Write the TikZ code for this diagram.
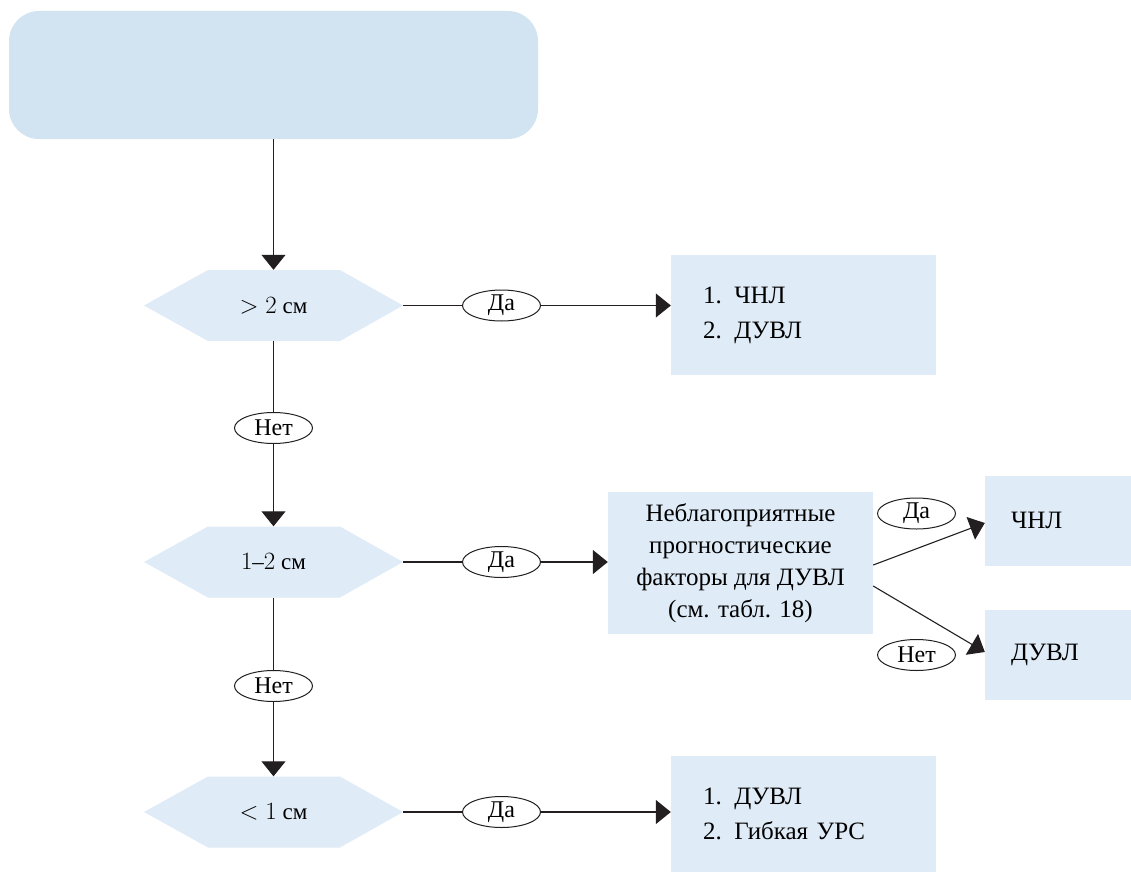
\documentclass[tikz,border=0pt]{standalone}
\usepackage{fontspec}
\setmainfont{Liberation Serif}
\usetikzlibrary{arrows.meta,shapes.geometric}
\definecolor{topfill}{RGB}{210,228,241}
\definecolor{boxfill}{RGB}{223,235,246}
\definecolor{ink}{RGB}{35,31,32}
\begin{document}
\begin{tikzpicture}[x=1pt,y=-1pt,
  line/.style={draw=ink, line width=1.1pt},
  arr/.style={line, -{Triangle[length=15pt,width=24pt]}},
  topbox/.style={fill=topfill, rounded corners=30pt, minimum width=529pt, minimum height=128pt, inner sep=0pt},
  hexa/.style={minimum width=259pt, minimum height=71pt, inner sep=0pt, font=\fontsize{23}{27}\selectfont,
    path picture={\fill[boxfill] (path picture bounding box.west)
      -- ([xshift=64pt]path picture bounding box.north west)
      -- ([xshift=-63pt]path picture bounding box.north east)
      -- (path picture bounding box.east)
      -- ([xshift=-63pt]path picture bounding box.south east)
      -- ([xshift=64pt]path picture bounding box.south west) -- cycle;}},
  lbl/.style={draw=ink, line width=1pt, ellipse, fill=white, minimum width=78pt, minimum height=31pt, inner sep=0pt, font=\fontsize{24}{28}\selectfont},
  listbox/.style={fill=boxfill, minimum width=265pt, inner xsep=32pt, text width=201pt, align=left, font=\fontsize{25}{35}\selectfont},
  endbox/.style={fill=boxfill, minimum width=146pt, minimum height=90pt, inner xsep=26pt, text width=94pt, align=left, font=\fontsize{25}{30}\selectfont},
  midbox/.style={fill=boxfill, minimum width=265pt, minimum height=142pt, inner sep=0pt, align=center, font=\fontsize{25}{32}\selectfont}
]
\useasboundingbox (0,0) rectangle (1131,872);

\node[topbox] (top) at (273.5,75) {};

\node[hexa] (h1) at (273.5,305.5) {$>2$ см};
\node[hexa] (h2) at (273.5,562) {$1$–$2$ см};
\node[hexa] (h3) at (273.5,812) {$<1$ см};

\node[lbl] (n1) at (273.5,428) {Нет};
\node[lbl] (n2) at (273.5,686) {Нет};

\node[lbl] (d1) at (501.5,305.5) {Да};
\node[lbl] (d2) at (501.5,562) {Да};
\node[lbl] (d3) at (501.5,812) {Да};

\node[listbox, minimum height=120pt] (b1) at (803.5,315) {1. ЧНЛ\\2. ДУВЛ};
\node[midbox] (b2) at (740.5,563) {Неблагоприятные\\прогностические\\факторы для ДУВЛ\\(см. табл. 18)};
\node[listbox, minimum height=116pt] (b3) at (803.5,814) {\rule{0pt}{0pt}1. ДУВЛ\\2. Гибкая УРС};

\node[endbox] (c1) at (1058,520.5) {ЧНЛ};
\node[endbox] (c2) at (1058,655) {ДУВЛ};

\node[lbl] (d4) at (916.5,513.5) {Да};
\node[lbl] (n3) at (916.5,655) {Нет};

\draw[arr] (top.south) -- (h1.north);
\draw[line] (h1.south) -- (n1.north);
\draw[arr] (n1.south) -- (h2.north);
\draw[line] (h2.south) -- (n2.north);
\draw[arr] (n2.south) -- (h3.north);

\draw[line] (h1.east) -- (d1.west);
\draw[arr] (d1.east) -- (d1.east -| b1.west);
\draw[line] (h2.east) -- (d2.west);
\draw[arr] (d2.east) -- (d2.east -| b2.west);
\draw[line] (h3.east) -- (d3.west);
\draw[arr] (d3.east) -- (d3.east -| b3.west);

\draw[arr] ([yshift=-2pt]b2.east) -- ([yshift=-2.5pt]c1.west);
\draw[arr] ([yshift=-23pt]b2.east) -- ([yshift=3pt]c2.west);
\end{tikzpicture}
\end{document}
